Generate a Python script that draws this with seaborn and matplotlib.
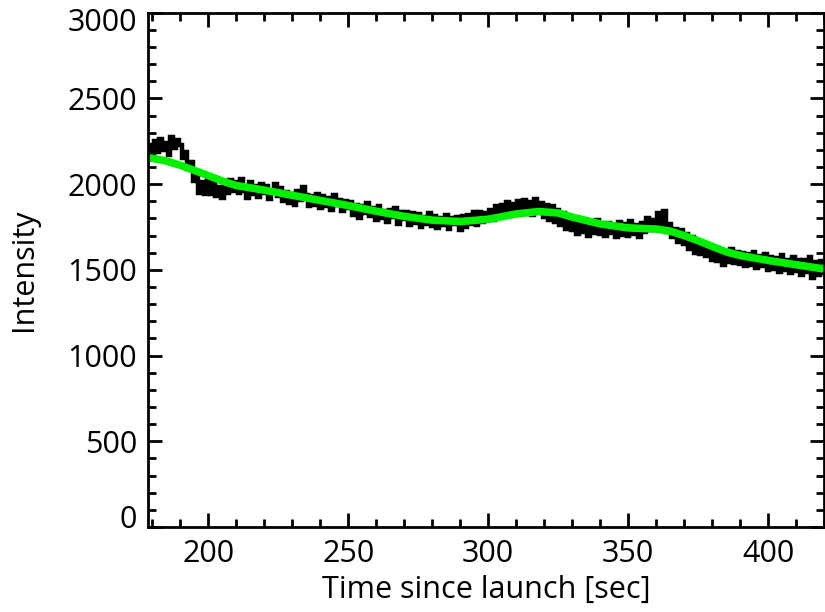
import matplotlib
matplotlib.use("Agg")
import matplotlib.pyplot as plt
import matplotlib.transforms as mtransforms
from matplotlib.ticker import MultipleLocator
import seaborn as sns
import pandas as pd

# ---- data -------------------------------------------------------------
time_raw = list(range(178, 421))
intensity_raw = [
    2180, 2230, 2160, 2250, 2190, 2265, 2200, 2240, 2170, 2275, 2210, 2260, 2230,
    2150, 2190, 2090, 2130, 2020, 2070, 1950, 2010, 1940, 2030,
    1945, 2010, 1930, 1985, 1920, 2000, 1950, 2025, 1960, 2010,
    1950, 2030, 1960, 1920, 2010, 1945, 1990, 1925, 2000, 1950,
    1990, 1915, 1960, 2000, 1930, 1980, 1900, 1955, 1890, 1940,
    1880, 1960, 1905, 1985, 1935, 1870, 1930, 1880, 1940, 1860,
    1930, 1870, 1920, 1850, 1935, 1880, 1910, 1845, 1900, 1860,
    1895, 1820, 1880, 1800, 1870, 1830, 1890, 1815, 1860, 1790,
    1870, 1800, 1845, 1780, 1850, 1810, 1860, 1770, 1835, 1795,
    1840, 1760, 1830, 1775, 1825, 1750, 1810, 1770, 1830, 1755,
    1815, 1745, 1800, 1760, 1820, 1740, 1805, 1765, 1810, 1735,
    1815, 1750, 1820, 1770, 1835, 1760, 1840, 1780, 1830, 1800,
    1850, 1790, 1870, 1810, 1880, 1820, 1895, 1830, 1885, 1850,
    1900, 1830, 1910, 1850, 1895, 1820, 1915, 1845, 1890, 1810,
    1880, 1790, 1870, 1780, 1850, 1760, 1830, 1740, 1810, 1730,
    1790, 1710, 1780, 1720, 1770, 1695, 1760, 1715, 1790, 1710,
    1770, 1700, 1775, 1715, 1760, 1690, 1780, 1705, 1765, 1700,
    1785, 1710, 1760, 1690, 1775, 1720, 1800, 1730, 1790, 1760,
    1830, 1750, 1845, 1720, 1770, 1690, 1740, 1660, 1730, 1650,
    1710, 1620, 1690, 1600, 1670, 1590, 1650, 1580, 1640, 1560,
    1620, 1550, 1610, 1530, 1600, 1545, 1620, 1540, 1605, 1535,
    1600, 1520, 1590, 1530, 1605, 1510, 1580, 1525, 1590, 1500,
    1575, 1505, 1570, 1490, 1585, 1500, 1560, 1480, 1575, 1495,
    1555, 1470, 1560, 1485, 1575, 1450, 1545, 1470, 1550, 1480,
]

time_smooth = [178.5, 185, 190, 195, 200, 205, 210, 220, 230, 240, 250, 260,
               270, 280, 290, 300, 310, 318, 325, 330, 340, 350, 360, 365,
               370, 375, 380, 385, 390, 400, 410, 420]
intensity_smooth = [2155, 2135, 2110, 2080, 2050, 2018, 1992, 1965, 1935, 1905,
                    1875, 1842, 1812, 1790, 1782, 1795, 1826, 1840, 1832, 1808,
                    1768, 1745, 1738, 1726, 1700, 1670, 1637, 1605, 1584, 1555,
                    1530, 1505]

x_ticks = [200, 250, 300, 350, 400]
y_ticks = [0, 500, 1000, 1500, 2000, 2500, 3000]

df_raw = pd.DataFrame({"t": time_raw, "I": intensity_raw})
df_smooth = pd.DataFrame({"t": time_smooth, "I": intensity_smooth})

# ---- figure -----------------------------------------------------------
sns.set_style("white")
plt.rcParams["font.family"] = ["Open Sans", "DejaVu Sans"]

fig = plt.figure(figsize=(8.25, 6.12), dpi=100)
ax = fig.add_axes([148 / 825, (612 - 527) / 612, (824 - 148) / 825, (527 - 12.7) / 612])

sns.lineplot(data=df_raw, x="t", y="I", ax=ax, color="black", linewidth=3.2,
             drawstyle="steps-mid", estimator=None, sort=False,
             solid_joinstyle="miter", solid_capstyle="butt")
sns.lineplot(data=df_smooth, x="t", y="I", ax=ax, color="#00f000", linewidth=5.5,
             estimator=None, sort=False, solid_capstyle="butt")

ax.set_xlim(178.5, 420)
ax.set_ylim(0, 3000)
ax.set_xticks(x_ticks)
ax.set_yticks(y_ticks)
ax.xaxis.set_minor_locator(MultipleLocator(10))
ax.yaxis.set_minor_locator(MultipleLocator(100))

for s in ax.spines.values():
    s.set_visible(True)
    s.set_color("black")
    s.set_linewidth(2)

ax.tick_params(which="both", direction="in", top=True, right=True,
               bottom=True, left=True, color="black", width=2)
ax.tick_params(which="major", length=10)
ax.tick_params(which="minor", length=6)
ax.tick_params(axis="both", which="major", labelsize=22, labelcolor="black")
ax.tick_params(axis="y", which="major", pad=8)
ax.tick_params(axis="x", which="major", pad=9)

ax.set_xlabel("Time since launch [sec]", fontsize=22, color="black", labelpad=4)
ax.set_ylabel("Intensity", fontsize=22, color="black", labelpad=20)

# shift end labels inward like the reference
fig.canvas.draw()
for lbl in ax.get_yticklabels():
    txt = lbl.get_text()
    if txt == "0":
        lbl.set_transform(lbl.get_transform() + mtransforms.ScaledTranslation(0, 10 / 100, fig.dpi_scale_trans))
    elif txt == "3000":
        lbl.set_transform(lbl.get_transform() + mtransforms.ScaledTranslation(0, -7 / 100, fig.dpi_scale_trans))

fig.savefig("out.png", dpi=100)
